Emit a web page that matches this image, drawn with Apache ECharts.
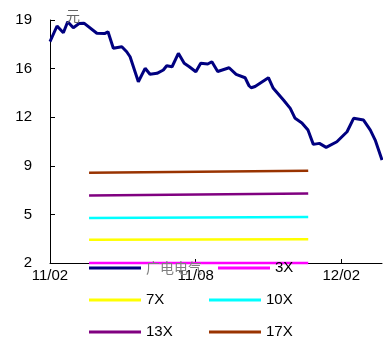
<!DOCTYPE html>
<html>
<head>
<meta charset="utf-8">
<script src="https://cdn.jsdelivr.net/npm/echarts@6/dist/echarts.min.js"></script>
<style>
  html, body { margin: 0; padding: 0; background: #fff; }
  #peBand { width: 383px; height: 345px; }
</style>
</head>
<body>
<div id="peBand"></div>
<script>
// x 按月计，0 = 11/02
var priceMonths = [0, 0.29, 0.55, 0.73, 0.96, 1.2, 1.4, 1.93, 2.25, 2.39, 2.61, 2.96, 3.16, 3.3, 3.64, 3.92, 4.12, 4.41, 4.67, 4.81, 5.03, 5.29, 5.53, 5.74, 6.01, 6.21, 6.5, 6.67, 6.91, 7.38, 7.67, 8.04, 8.2, 8.29, 8.45, 9.0, 9.2, 9.62, 9.9, 10.1, 10.38, 10.63, 10.85, 11.1, 11.38, 11.82, 12.24, 12.51, 12.92, 13.2, 13.4, 13.68]
var priceValues = [17.48, 18.58, 18.11, 18.88, 18.46, 18.75, 18.78, 18.07, 18.05, 18.18, 17.02, 17.13, 16.78, 16.43, 14.68, 15.62, 15.2, 15.27, 15.5, 15.8, 15.73, 16.67, 15.97, 15.73, 15.38, 15.97, 15.92, 16.08, 15.4, 15.66, 15.2, 14.96, 14.4, 14.26, 14.35, 14.96, 14.22, 13.4, 12.82, 12.12, 11.8, 11.3, 10.3, 10.37, 10.09, 10.48, 11.18, 12.12, 12.0, 11.3, 10.6, 9.2]

var bandNames = ['3X', '7X', '10X', '13X', '17X']
var bandMonths = [1.61, 10.64]
var bandStart = [2.0, 3.62, 5.14, 6.73, 8.31]
var bandEnd = [2.0, 3.66, 5.21, 6.87, 8.45]
var bandColors = ['#ff00ff', '#ffff00', '#00ffff', '#800080', '#993300']

var xLabels = { 0: '11/02', 6: '11/08', 12: '12/02' }
var yTicks = [2, 5, 9, 12, 16, 19]

var myChart = echarts.init(document.getElementById('peBand'))

var series = [
  {
    name: '广电电气',
    type: 'line',
    symbol: 'none',
    lineStyle: { color: '#000080', width: 3 },
    itemStyle: { color: '#000080' },
    data: priceMonths.map(function (m, i) { return [m, priceValues[i]] }),
    z: 3
  }
]
bandNames.forEach(function (n, i) {
  series.push({
    name: n,
    type: 'line',
    symbol: 'none',
    clip: false,
    lineStyle: { color: bandColors[i], width: 2.5 },
    itemStyle: { color: bandColors[i] },
    data: [[bandMonths[0], bandStart[i]], [bandMonths[1], bandEnd[i]]],
    z: 2
  })
})

var option = {
  animation: false,
  textStyle: { fontFamily: 'Liberation Sans, Arial, sans-serif' },
  title: {
    text: '元',
    left: 61,
    top: 4,
    textStyle: { fontSize: 14, color: '#666', fontWeight: 'normal', fontFamily: 'Noto Sans CJK SC' }
  },
  grid: { left: 50, right: 1, top: 20, bottom: 82 },
  xAxis: {
    type: 'value',
    min: 0,
    max: 13.68,
    interval: 6,
    splitLine: { show: false },
    axisLine: { lineStyle: { color: '#000', width: 1 } },
    axisTick: { inside: true, length: 4, lineStyle: { color: '#000' } },
    axisLabel: {
      color: '#000',
      fontSize: 15,
      margin: 5,
      showMaxLabel: false,
      formatter: function (v) { return xLabels[Math.round(v)] || '' }
    }
  },
  yAxis: {
    type: 'value',
    min: 2,
    max: 19,
    interval: 3.4,
    splitLine: { show: false },
    axisLine: { show: true, lineStyle: { color: '#000', width: 1 } },
    axisTick: { show: true, inside: true, length: 5, lineStyle: { color: '#000' } },
    axisLabel: {
      color: '#000',
      fontSize: 15,
      margin: 18,
      formatter: function (v) {
        var r = Math.round(v)
        return yTicks.indexOf(r) > -1 ? String(r) : ''
      }
    }
  },
  legend: {
    left: 89,
    top: 260,
    width: 240,
    padding: 0,
    itemWidth: 52,
    itemHeight: 3,
    itemGap: 16,
    icon: 'rect',
    textStyle: { fontSize: 15, color: '#000', width: 47, lineHeight: 16 },
    data: [
      { name: '广电电气', textStyle: { color: '#808080', fontSize: 14, fontFamily: 'Noto Sans CJK SC' } },
      '3X', '7X', '10X', '13X', '17X'
    ]
  },
  series: series
}
myChart.setOption(option, true)
</script>
</body>
</html>
